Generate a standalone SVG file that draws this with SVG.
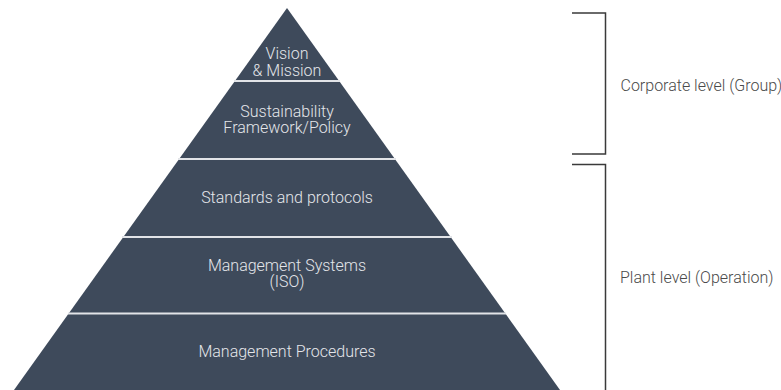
<svg xmlns="http://www.w3.org/2000/svg" width="781" height="390" viewBox="0 0 781 390">
  <style>
    .tier { fill: #3e4a5b; }
    .divider { stroke: #e2e4e8; stroke-width: 2; }
    .label { font-family: Roboto, "Liberation Sans", sans-serif; font-weight: 300; font-size: 16px; fill: #e4e6ea; text-anchor: middle; }
    .side { font-family: Roboto, "Liberation Sans", sans-serif; font-weight: 300; font-size: 16px; fill: #4a4a4a; }
    .bracket { fill: none; stroke: #3a3a3a; stroke-width: 1.5; }
  </style>
  <rect width="781" height="390" fill="#ffffff"/>

  <!-- pyramid body -->
  <polygon class="tier" points="287,8 560,390 14,390"/>

  <g id="tier-vision">
    <text class="label" x="287" y="59">Vision</text>
    <text class="label" x="287" y="75.5">&amp; Mission</text>
  </g>
  <g id="tier-framework">
    <text class="label" x="287" y="116.5">Sustainability</text>
    <text class="label" x="287" y="132.5">Framework/Policy</text>
  </g>
  <g id="tier-standards">
    <text class="label" x="287" y="202.5">Standards and protocols</text>
  </g>
  <g id="tier-systems">
    <text class="label" x="287" y="271">Management Systems</text>
    <text class="label" x="287" y="287">(ISO)</text>
  </g>
  <g id="tier-procedures">
    <text class="label" x="287" y="357">Management Procedures</text>
  </g>

  <!-- separators between tiers -->
  <g id="connectors">
    <line class="divider" x1="234" y1="81" x2="340" y2="81"/>
    <line class="divider" x1="178" y1="159" x2="396" y2="159"/>
    <line class="divider" x1="122" y1="237" x2="452" y2="237"/>
    <line class="divider" x1="68" y1="313.5" x2="506" y2="313.5"/>
    <path class="bracket" d="M572,13 H605.5 V154 H572"/>
    <path class="bracket" d="M572,164.5 H605.5 V390"/>
  </g>

  <g id="level-corporate">
    <text class="side" x="620.5" y="91">Corporate level (Group)</text>
  </g>
  <g id="level-plant">
    <text class="side" x="620" y="283">Plant level (Operation)</text>
  </g>
</svg>
